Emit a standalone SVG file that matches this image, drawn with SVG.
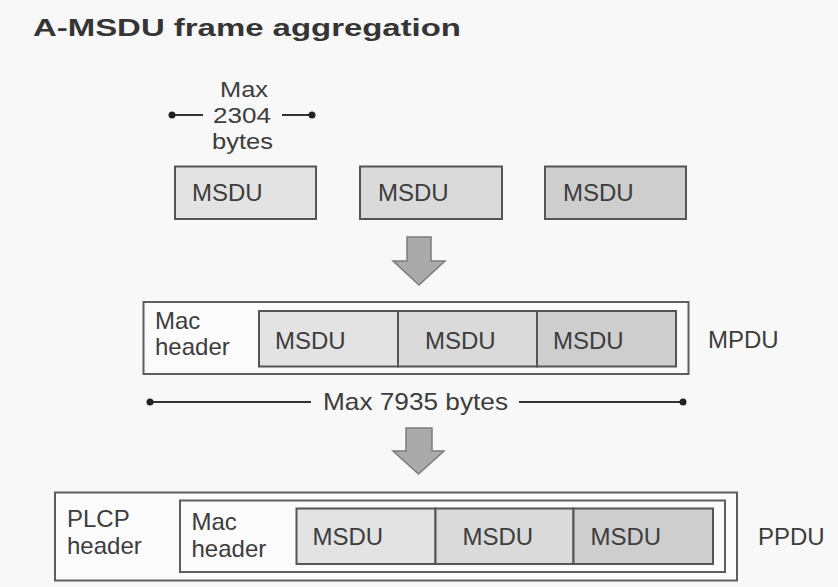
<svg xmlns="http://www.w3.org/2000/svg" width="838" height="587" viewBox="0 0 838 587">
<defs>
<style>
.t{font-family:"Liberation Sans",Arial,sans-serif;font-size:24px;fill:#3d3d3d}
.s{font-family:"Liberation Sans",Arial,sans-serif;font-size:22px;fill:#3d3d3d}
.title{font-family:"Liberation Sans",Arial,sans-serif;font-size:23px;font-weight:bold;fill:#353535}
.frame{fill:#fbfbfb;stroke:#5e5e5e;stroke-width:2}
.m1{fill:#e3e3e3;stroke:#555;stroke-width:2}
.m2{fill:#dadada;stroke:#555;stroke-width:2}
.m3{fill:#cecece;stroke:#555;stroke-width:2}
.dim{stroke:#333;stroke-width:2;fill:none}
.dot{fill:#222}
.arrow{fill:#aaaaaa;stroke:#7c7c7c;stroke-width:1.5}
</style>
</defs>
<rect width="838" height="587" fill="#f8f8f8"/>
<text class="title" x="33" y="36" textLength="428" lengthAdjust="spacingAndGlyphs">A-MSDU frame aggregation</text>

<g id="size-msdu">
<text class="s" x="220" y="97" textLength="48" lengthAdjust="spacingAndGlyphs">Max</text>
<text class="s" x="213" y="123" textLength="58" lengthAdjust="spacingAndGlyphs">2304</text>
<text class="s" x="212" y="149" textLength="61" lengthAdjust="spacingAndGlyphs">bytes</text>
<line class="dim" x1="172" y1="115" x2="203" y2="115"/>
<line class="dim" x1="282" y1="115" x2="312" y2="115"/>
<circle class="dot" cx="172" cy="115" r="3.5"/>
<circle class="dot" cx="312" cy="115" r="3.5"/>
</g>

<g id="msdu1"><rect class="m1" x="175" y="166.5" width="141" height="52.5"/><text class="t" x="192" y="201">MSDU</text></g>
<g id="msdu2"><rect class="m2" x="360" y="166.5" width="142" height="52.5"/><text class="t" x="378" y="201">MSDU</text></g>
<g id="msdu3"><rect class="m3" x="545" y="166.5" width="141" height="52.5"/><text class="t" x="563" y="201">MSDU</text></g>

<g id="connectors">
<path class="arrow" d="M407,237 H431 V261 H445 L419,285 L393,261 H407 Z"/>
<path class="arrow" d="M406,428 H432 V451 H444 L418.5,474 L393,451 H406 Z"/>
</g>

<g id="mpdu">
<rect class="frame" x="143.5" y="302" width="545" height="72"/>
<text class="t" x="155" y="329">Mac</text>
<text class="t" x="155" y="355">header</text>
<rect class="m1" x="259" y="311" width="139" height="55.5"/>
<rect class="m2" x="398" y="311" width="139" height="55.5"/>
<rect class="m3" x="537" y="311" width="139" height="55.5"/>
<text class="t" x="275" y="349">MSDU</text>
<text class="t" x="425" y="349">MSDU</text>
<text class="t" x="553" y="349">MSDU</text>
<text class="t" x="708" y="348">MPDU</text>
</g>

<g id="size-mpdu">
<line class="dim" x1="150" y1="402" x2="311" y2="402"/>
<line class="dim" x1="519" y1="402" x2="683" y2="402"/>
<circle class="dot" cx="150" cy="402" r="3.5"/>
<circle class="dot" cx="683" cy="402" r="3.5"/>
<text class="t" x="323" y="410" textLength="185" lengthAdjust="spacingAndGlyphs">Max 7935 bytes</text>
</g>

<g id="ppdu">
<rect class="frame" x="55" y="492.5" width="682" height="88"/>
<text class="t" x="67" y="527">PLCP</text>
<text class="t" x="67" y="554">header</text>
<rect class="frame" x="180" y="500.5" width="545" height="71.5"/>
<text class="t" x="191.5" y="530">Mac</text>
<text class="t" x="191.5" y="557">header</text>
<rect class="m1" x="296.5" y="508.5" width="139" height="55.5"/>
<rect class="m2" x="435.5" y="508.5" width="138" height="55.5"/>
<rect class="m3" x="573.5" y="508.5" width="139.5" height="55.5"/>
<text class="t" x="312.5" y="545">MSDU</text>
<text class="t" x="462.5" y="545">MSDU</text>
<text class="t" x="590.5" y="545">MSDU</text>
<text class="t" x="758" y="545">PPDU</text>
</g>
</svg>
